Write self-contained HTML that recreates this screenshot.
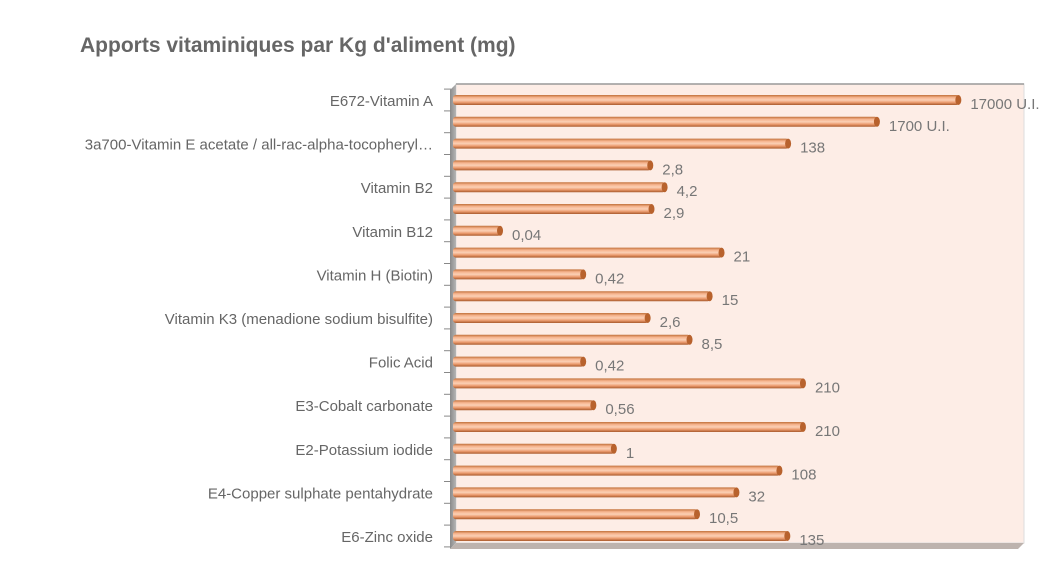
<!DOCTYPE html>
<html><head><meta charset="utf-8"><style>
body{margin:0;background:#fff;width:1057px;height:578px;overflow:hidden;font-family:"Liberation Sans",sans-serif}
</style></head><body>
<svg width="1057" height="578">
<defs>
<linearGradient id="bg" x1="0" y1="0" x2="0" y2="1">
<stop offset="0" stop-color="#c0703a"/><stop offset="0.25" stop-color="#f6b48e"/><stop offset="0.5" stop-color="#fbd0b5"/><stop offset="0.75" stop-color="#eb9a6d"/><stop offset="1" stop-color="#a85a2c"/>
</linearGradient>
<linearGradient id="lw" x1="0" y1="0" x2="1" y2="0"><stop offset="0" stop-color="#8a8a8a"/><stop offset="1" stop-color="#b5b5b5"/></linearGradient>
</defs>
<text x="80" y="52" font-size="21" font-weight="bold" fill="#666">Apports vitaminiques par Kg d'aliment (mg)</text>
<polygon points="456,84 1024,84 1024,543 456,543" fill="#fdede6" stroke="#ddd" stroke-width="1"/>
<polygon points="450,90 456,84 456,543 450,549" fill="url(#lw)"/>
<polygon points="450,549 456,543 1024,543 1018,549" fill="#bdb3ae"/>
<line x1="456" y1="84" x2="1024" y2="84" stroke="#999" stroke-width="1.5"/>
<g id="ticks"></g><g id="bars"></g><g id="labels"></g>
</svg>
<script>
const categories=["E672-Vitamin A","","3a700-Vitamin E acetate / all-rac-alpha-tocopheryl…","","Vitamin B2","","Vitamin B12","","Vitamin H (Biotin)","","Vitamin K3 (menadione sodium bisulfite)","","Folic Acid","","E3-Cobalt carbonate","","E2-Potassium iodide","","E4-Copper sulphate pentahydrate","","E6-Zinc oxide"];
const values=[17000,1700,138,2.8,4.2,2.9,0.04,21,0.42,15,2.6,8.5,0.42,210,0.56,210,1,108,32,10.5,135];
const valueLabels=["17000 U.I.","1700 U.I.","138","2,8","4,2","2,9","0,04","21","0,42","15","2,6","8,5","0,42","210","0,56","210","1","108","32","10,5","135"];
const axisMin=0.01, axisMax=100000;
const X0=452,X1=1022,Y0=100,Y1=536;
const NS="http://www.w3.org/2000/svg";
function xs(v){return X0+(Math.log10(v)-Math.log10(axisMin))/(Math.log10(axisMax)-Math.log10(axisMin))*(X1-X0);}
const step=(Y1-Y0)/(values.length-1);
function ys(i){return Y0+i*step;}
const bars=document.getElementById('bars'),labs=document.getElementById('labels'),ticks=document.getElementById('ticks');
for(let i=0;i<=values.length;i++){
 const t=document.createElementNS(NS,'line');
 const y=ys(i)-step/2;
 t.setAttribute('x1',444);t.setAttribute('x2',451);t.setAttribute('y1',y);t.setAttribute('y2',y);
 t.setAttribute('stroke','#888');
 
 
 ticks.appendChild(t);
}
values.forEach((v,i)=>{
 const y=ys(i),xe=xs(v),h=10;
 const g=document.createElementNS(NS,'g');
 
 
 const r=document.createElementNS(NS,'rect');
 r.setAttribute('x',X0+1);r.setAttribute('y',y-h/2);r.setAttribute('width',Math.max(2,xe-X0-1));r.setAttribute('height',h);
 r.setAttribute('rx',3);r.setAttribute('fill','url(#bg)');
 g.appendChild(r);
 const c=document.createElementNS(NS,'ellipse');
 c.setAttribute('cx',xe-1);c.setAttribute('cy',y);c.setAttribute('rx',3);c.setAttribute('ry',h/2);c.setAttribute('fill','#b8622d');
 g.appendChild(c);
 bars.appendChild(g);
 const t=document.createElementNS(NS,'text');
 t.setAttribute('x',xe+11);t.setAttribute('y',y+9);t.setAttribute('font-size','15');t.setAttribute('fill','#777');
 t.textContent=valueLabels[i];
 
 
 labs.appendChild(t);
 if(categories[i]){
  const c2=document.createElementNS(NS,'text');
  c2.setAttribute('x',433);c2.setAttribute('y',y+6);c2.setAttribute('font-size','15');c2.setAttribute('fill','#666');c2.setAttribute('text-anchor','end');
  c2.textContent=categories[i];
  
  
  labs.appendChild(c2);
 }
});
</script>
</body></html>
